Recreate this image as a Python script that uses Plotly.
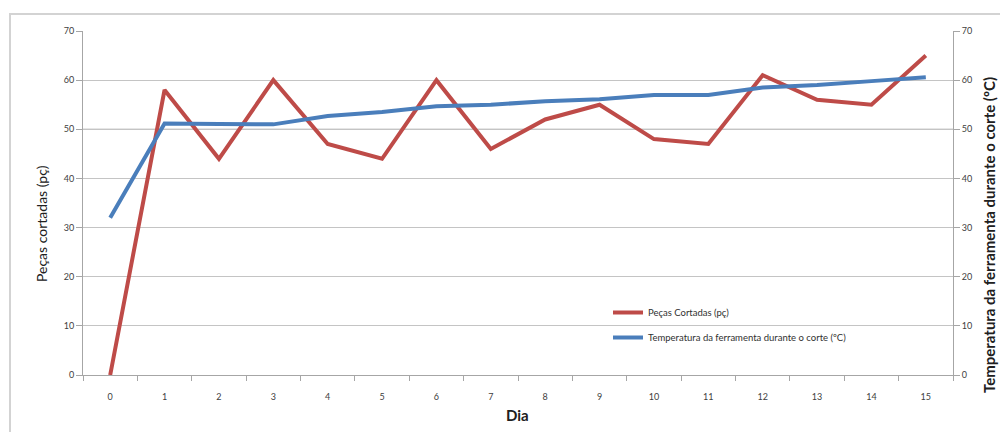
import plotly.graph_objects as go

# Daily readings
dias = [str(d) for d in range(16)]
pecas_cortadas = [0, 58, 44, 60, 47, 44, 60, 46, 52, 55, 48, 47, 61, 56, 55, 65]
temperatura = [32, 51.2, 51.1, 51, 52.7, 53.5, 54.7, 55, 55.7, 56.1, 57, 57, 58.5, 59, 59.8, 60.6]
y_ticks = [0, 10, 20, 30, 40, 50, 60, 70]

RED = "#be4b48"
BLUE = "#4a7ebb"
AXIS = "#a6a6a6"
GRID = "#c4c4c4"
TICKFONT = dict(family="Lato, Open Sans, sans-serif", size=9, color="#404040")

fig = go.Figure()
fig.add_trace(go.Scatter(
    x=dias, y=pecas_cortadas, mode="lines", name="Peças Cortadas (pç)",
    line=dict(color=RED, width=4), legendgroup="a",
))
fig.add_trace(go.Scatter(
    x=dias, y=temperatura, mode="lines", name="Temperatura da ferramenta durante o corte (ºC)",
    line=dict(color=BLUE, width=4), yaxis="y2", legendgroup="b",
))

fig.update_layout(
    width=1000, height=432,
    margin=dict(l=83, r=47, t=31, b=57),
    paper_bgcolor="white", plot_bgcolor="white",
    showlegend=True,
    legend=dict(
        x=(608 - 83) / 870, xanchor="left",
        y=(375 - 298) / 344, yanchor="top",
        font=dict(family="Lato, Open Sans, sans-serif", size=9.5, color="#303030"),
        bgcolor="rgba(0,0,0,0)", traceorder="grouped", tracegroupgap=6,
        itemwidth=30,
    ),
    xaxis=dict(
        type="category", tickson="boundaries", ticks="outside", ticklen=5,
        tickcolor=AXIS, showline=True, linecolor=AXIS, linewidth=1,
        showgrid=False, tickfont=TICKFONT, ticklabelstandoff=13,
        range=[-0.5, 15.5],
    ),
    yaxis=dict(
        range=[0, 70], tickvals=y_ticks, ticks="outside", ticklen=6,
        tickcolor=AXIS, showline=True, linecolor=AXIS, linewidth=1,
        showgrid=True, gridcolor=GRID, gridwidth=1, zeroline=False,
        tickfont=TICKFONT,
    ),
    yaxis2=dict(
        range=[0, 70], tickvals=y_ticks, ticks="outside", ticklen=6,
        tickcolor=AXIS, showline=True, linecolor=AXIS, linewidth=1,
        showgrid=False, zeroline=False, overlaying="y", side="right",
        tickfont=TICKFONT,
    ),
    shapes=[
        # outer chart frame
        dict(type="rect", xref="paper", yref="paper",
             x0=(10 - 83) / 870, x1=(1010 - 83) / 870,
             y0=(375 - 445) / 344, y1=(375 - 14) / 344,
             line=dict(color="#d3d3d3", width=2), layer="below"),
        # darker reference line at 50
        dict(type="line", xref="paper", yref="y", x0=0, x1=1, y0=50, y1=50,
             line=dict(color="#8c8c8c", width=1), layer="below"),
    ],
    annotations=[
        dict(text="Peças cortadas (pç)", xref="paper", yref="paper",
             x=(41 - 83) / 870, y=(375 - 224) / 344, textangle=-90,
             showarrow=False, xanchor="center", yanchor="middle",
             font=dict(family="Lato, Open Sans, sans-serif", size=14, color="#202020")),
        dict(text="<b>Temperatura da ferramenta durante o corte (ºC)</b>", xref="paper", yref="paper",
             x=(989 - 83) / 870, y=(375 - 235) / 344, textangle=-90,
             showarrow=False, xanchor="center", yanchor="middle",
             font=dict(family="Lato, Open Sans, sans-serif", size=15, color="#202020")),
        dict(text="<b>Dia</b>", xref="paper", yref="paper",
             x=(517 - 83) / 870, y=(375 - 415) / 344,
             showarrow=False, xanchor="center", yanchor="middle",
             font=dict(family="Lato, Open Sans, sans-serif", size=15, color="#202020")),
    ],
)

fig.write_html("out.html")
